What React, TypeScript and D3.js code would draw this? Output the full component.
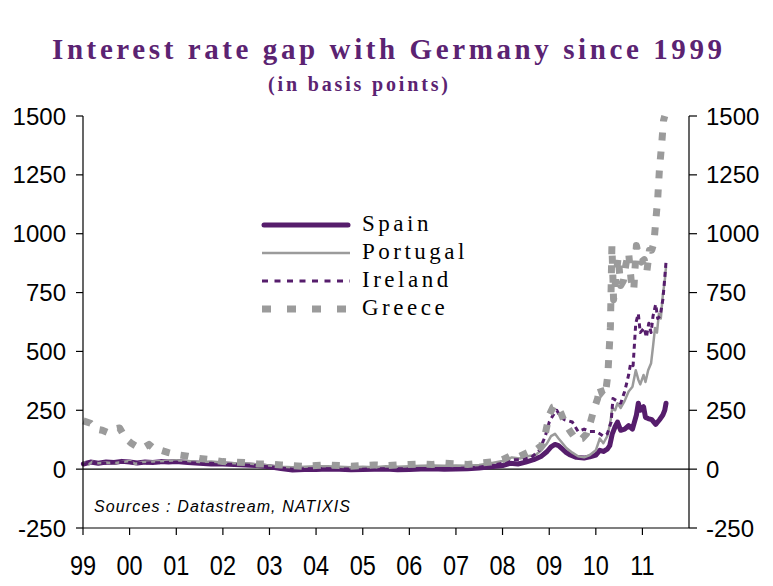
import React from "react";
import * as d3 from "d3";

type Pt = [string, number];

const yTicks = [-250, 0, 250, 500, 750, 1000, 1250, 1500];
const yearTicks = ["99", "00", "01", "02", "03", "04", "05", "06", "07", "08", "09", "10", "11"];
const seriesNames = ["Spain", "Portugal", "Ireland", "Greece"];

const spain: Pt[] = [
  ["1999-01-04", 22], ["1999-03-01", 30], ["1999-05-01", 25], ["1999-07-01", 30], ["1999-09-01", 28], ["1999-11-01", 33],
  ["2000-01-01", 30], ["2000-03-01", 26], ["2000-05-01", 30], ["2000-07-01", 28], ["2000-09-01", 32], ["2000-11-01", 30],
  ["2001-01-01", 32], ["2001-04-01", 28], ["2001-07-01", 25], ["2001-10-01", 22], ["2002-01-01", 22], ["2002-04-01", 20],
  ["2002-07-01", 18], ["2002-10-01", 15], ["2003-01-01", 10], ["2003-04-01", 3], ["2003-07-01", -4], ["2003-10-01", -2],
  ["2004-01-01", -1], ["2004-04-01", 1], ["2004-07-01", 0], ["2004-10-01", -3], ["2005-01-01", -2], ["2005-04-01", 0],
  ["2005-07-01", 1], ["2005-10-01", -3], ["2006-01-01", -1], ["2006-04-01", 1], ["2006-07-01", 2], ["2006-10-01", 0],
  ["2007-01-01", 1], ["2007-04-01", 2], ["2007-07-01", 5], ["2007-10-01", 10], ["2008-01-01", 15], ["2008-03-01", 25],
  ["2008-05-01", 22], ["2008-07-01", 30], ["2008-09-01", 40], ["2008-11-01", 55], ["2008-12-15", 75], ["2009-01-15", 95],
  ["2009-02-15", 105], ["2009-03-15", 100], ["2009-04-15", 85], ["2009-05-15", 70], ["2009-06-15", 60], ["2009-08-01", 50],
  ["2009-10-01", 47], ["2009-11-15", 52], ["2010-01-01", 60], ["2010-02-01", 80], ["2010-03-01", 75], ["2010-04-01", 85],
  ["2010-04-20", 100], ["2010-05-10", 150], ["2010-06-01", 180], ["2010-06-20", 200], ["2010-07-15", 165], ["2010-08-15", 170],
  ["2010-09-15", 185], ["2010-10-15", 170], ["2010-11-15", 230], ["2010-11-30", 280], ["2010-12-15", 250], ["2011-01-10", 265],
  ["2011-01-25", 220], ["2011-02-15", 215], ["2011-03-15", 210], ["2011-04-15", 190], ["2011-05-15", 210], ["2011-06-10", 230],
  ["2011-06-25", 250], ["2011-07-05", 280],
];

const portugal: Pt[] = [
  ["1999-01-04", 30], ["1999-02-15", 20], ["1999-03-15", 32], ["1999-05-01", 25], ["1999-07-01", 28], ["1999-09-01", 25],
  ["1999-11-01", 30], ["2000-01-01", 35], ["2000-02-15", 22], ["2000-04-01", 30], ["2000-07-01", 32], ["2000-10-01", 35],
  ["2001-01-01", 38], ["2001-04-01", 35], ["2001-07-01", 30], ["2001-10-01", 32], ["2002-01-01", 28], ["2002-04-01", 25],
  ["2002-07-01", 25], ["2002-10-01", 20], ["2003-01-01", 15], ["2003-04-01", 10], ["2003-07-01", 8], ["2003-10-01", 10],
  ["2004-01-01", 12], ["2004-04-01", 12], ["2004-07-01", 10], ["2004-10-01", 8], ["2005-01-01", 10], ["2005-04-01", 8],
  ["2005-07-01", 12], ["2005-10-01", 10], ["2006-01-01", 12], ["2006-04-01", 14], ["2006-07-01", 15], ["2006-10-01", 14],
  ["2007-01-01", 15], ["2007-04-01", 14], ["2007-07-01", 18], ["2007-10-01", 25], ["2008-01-01", 35], ["2008-03-15", 50],
  ["2008-05-15", 45], ["2008-07-15", 55], ["2008-09-15", 60], ["2008-11-01", 80], ["2008-12-15", 110], ["2009-01-15", 140],
  ["2009-02-15", 150], ["2009-03-15", 130], ["2009-04-15", 110], ["2009-05-15", 90], ["2009-07-01", 70], ["2009-08-15", 55],
  ["2009-10-01", 50], ["2009-11-15", 60], ["2010-01-01", 80], ["2010-02-01", 130], ["2010-03-01", 110], ["2010-04-01", 140],
  ["2010-04-25", 200], ["2010-05-10", 260], ["2010-06-01", 250], ["2010-06-20", 280], ["2010-07-15", 260], ["2010-08-15", 290],
  ["2010-09-15", 330], ["2010-10-15", 350], ["2010-11-10", 420], ["2010-11-30", 380], ["2010-12-15", 360], ["2011-01-10", 400],
  ["2011-01-25", 370], ["2011-02-15", 420], ["2011-03-10", 450], ["2011-03-25", 520], ["2011-04-10", 600], ["2011-04-25", 580],
  ["2011-05-10", 660], ["2011-05-25", 640], ["2011-06-10", 740], ["2011-06-25", 800], ["2011-07-05", 860],
];

const ireland: Pt[] = [
  ["1999-01-04", 22], ["1999-04-01", 28], ["1999-07-01", 25], ["1999-10-01", 30], ["2000-01-01", 28], ["2000-04-01", 25],
  ["2000-07-01", 27], ["2000-10-01", 28], ["2001-01-01", 30], ["2001-04-01", 28], ["2001-07-01", 25], ["2001-10-01", 25],
  ["2002-01-01", 22], ["2002-04-01", 20], ["2002-07-01", 18], ["2002-10-01", 15], ["2003-01-01", 10], ["2003-04-01", 5],
  ["2003-07-01", 0], ["2003-10-01", 2], ["2004-01-01", 2], ["2004-07-01", 1], ["2005-01-01", 0], ["2005-07-01", 2],
  ["2006-01-01", 1], ["2006-07-01", 3], ["2007-01-01", 3], ["2007-07-01", 8], ["2007-10-01", 15], ["2008-01-01", 25],
  ["2008-03-15", 40], ["2008-06-01", 40], ["2008-08-15", 50], ["2008-10-15", 80], ["2008-12-01", 140], ["2009-01-01", 200],
  ["2009-02-01", 230], ["2009-03-01", 250], ["2009-04-01", 220], ["2009-05-01", 210], ["2009-06-01", 205], ["2009-07-01", 200],
  ["2009-08-15", 160], ["2009-10-01", 170], ["2009-11-15", 160], ["2010-01-01", 160], ["2010-02-01", 150], ["2010-03-01", 140],
  ["2010-04-01", 150], ["2010-05-01", 200], ["2010-05-15", 300], ["2010-06-15", 290], ["2010-07-15", 280], ["2010-08-15", 330],
  ["2010-09-15", 400], ["2010-10-01", 450], ["2010-10-20", 440], ["2010-11-10", 620], ["2010-11-30", 660], ["2010-12-15", 580],
  ["2011-01-15", 600], ["2011-02-01", 560], ["2011-02-20", 620], ["2011-03-10", 580], ["2011-03-25", 650], ["2011-04-15", 700],
  ["2011-05-01", 640], ["2011-05-20", 650], ["2011-06-10", 720], ["2011-06-20", 780], ["2011-07-05", 880],
];

const greece: Pt[] = [
  ["1999-01-04", 205], ["1999-03-01", 195], ["1999-04-15", 170], ["1999-06-01", 165], ["1999-07-15", 155], ["1999-09-01", 170],
  ["1999-10-15", 175], ["1999-12-01", 130], ["2000-01-15", 110], ["2000-03-01", 95], ["2000-04-15", 90], ["2000-06-01", 105],
  ["2000-07-15", 85], ["2000-09-01", 80], ["2000-11-01", 70], ["2001-01-01", 62], ["2001-04-01", 55], ["2001-07-01", 45],
  ["2001-10-01", 40], ["2002-01-01", 32], ["2002-04-01", 30], ["2002-07-01", 28], ["2002-10-01", 22], ["2003-01-01", 22],
  ["2003-04-01", 18], ["2003-07-01", 15], ["2003-10-01", 12], ["2004-01-01", 15], ["2004-04-01", 18], ["2004-07-01", 15],
  ["2004-10-01", 12], ["2005-01-01", 15], ["2005-04-01", 18], ["2005-07-01", 15], ["2005-10-01", 18], ["2006-01-01", 20],
  ["2006-04-01", 22], ["2006-07-01", 20], ["2006-10-01", 25], ["2007-01-01", 22], ["2007-04-01", 20], ["2007-07-01", 25],
  ["2007-10-01", 30], ["2008-01-01", 40], ["2008-03-15", 60], ["2008-05-15", 55], ["2008-07-15", 70], ["2008-09-15", 80],
  ["2008-11-01", 100], ["2008-12-01", 150], ["2009-01-01", 230], ["2009-02-01", 265], ["2009-03-01", 270], ["2009-04-01", 240],
  ["2009-05-01", 200], ["2009-06-15", 160], ["2009-08-01", 125], ["2009-09-15", 130], ["2009-10-20", 150], ["2009-11-20", 200],
  ["2009-12-15", 250], ["2010-01-15", 300], ["2010-02-01", 350], ["2010-02-20", 320], ["2010-03-15", 310], ["2010-04-05", 400],
  ["2010-04-25", 600], ["2010-05-07", 950], ["2010-05-20", 720], ["2010-06-05", 800], ["2010-06-25", 900], ["2010-07-15", 780],
  ["2010-08-05", 800], ["2010-08-25", 870], ["2010-09-15", 920], ["2010-10-05", 800], ["2010-10-25", 760], ["2010-11-15", 950],
  ["2010-12-05", 900], ["2010-12-25", 880], ["2011-01-15", 890], ["2011-02-05", 840], ["2011-02-25", 930], ["2011-03-15", 930],
  ["2011-04-01", 960], ["2011-04-15", 1050], ["2011-05-01", 1150], ["2011-05-15", 1280], ["2011-06-01", 1380], ["2011-06-15", 1480],
  ["2011-06-25", 1500],
];

const PURPLE = "#561d6c";
const TITLE_PURPLE = "#5b2372";
const GRAY = "#9b9b9b";

const styles = [
  { color: PURPLE, width: 5, dash: "", legendDash: "", cap: "round" },
  { color: GRAY, width: 2.5, dash: "", legendDash: "", cap: "butt" },
  { color: PURPLE, width: 3, dash: "5,4", legendDash: "6,6.5", cap: "butt" },
  { color: GRAY, width: 7, dash: "8,11", legendDash: "9,16", cap: "butt" },
];

export default function App() {
  const W = 773, H = 586;
  const parse = d3.timeParse("%Y-%m-%d");
  const x = d3.scaleTime().domain([new Date(1999, 0, 1), new Date(2012, 0, 1)]).range([83, 689]);
  const y = d3.scaleLinear().domain([-250, 1500]).range([528, 116]);
  const line = d3.line<Pt>().x(d => x(parse(d[0]) as Date)).y(d => y(d[1]));
  const all = [spain, portugal, ireland, greece];
  const years = d3.range(1999, 2012).map(yr => new Date(yr, 0, 1));
  const sans = "'Liberation Sans', Arial, sans-serif";
  const serif = "'Liberation Serif', 'Times New Roman', serif";
  const x0 = x.range()[0], x1 = x.range()[1];
  const legendY = [225, 253, 281, 309];

  return (
    <svg width={W} height={H} style={{ position: "absolute", left: 0, top: 0, background: "#fff" }}>
      <rect width={W} height={H} fill="#fff" />
      <text x={387} y={59} textAnchor="middle" fontFamily={serif} fontWeight="bold" fontSize={29} fill={TITLE_PURPLE}
        textLength={670} lengthAdjust="spacing">Interest rate gap with Germany since 1999</text>
      <text x={358} y={91} textAnchor="middle" fontFamily={serif} fontWeight="bold" fontSize={20} fill={TITLE_PURPLE}
        textLength={180} lengthAdjust="spacing">(in basis points)</text>

      {/* zero line */}
      <line x1={x0} x2={x1} y1={y(0)} y2={y(0)} stroke="#000" strokeWidth={1.2} />

      {/* series */}
      {all.map((s, i) => (
        <path key={i} d={line(s) || ""} fill="none" stroke={styles[i].color} strokeWidth={styles[i].width}
          strokeDasharray={styles[i].dash || undefined} strokeLinejoin="round" strokeLinecap={styles[i].cap as any} />
      ))}

      {/* axes */}
      <line x1={x0} x2={x0} y1={y(1500)} y2={y(-250)} stroke="#000" strokeWidth={1.2} />
      <line x1={x1} x2={x1} y1={y(1500)} y2={y(-250)} stroke="#000" strokeWidth={1.2} />
      <line x1={x0} x2={x1} y1={y(-250)} y2={y(-250)} stroke="#000" strokeWidth={1.2} />
      {yTicks.map(t => (
        <g key={t}>
          <line x1={x0 - 7} x2={x0} y1={y(t)} y2={y(t)} stroke="#000" strokeWidth={1.2} />
          <line x1={x1} x2={x1 + 8} y1={y(t)} y2={y(t)} stroke="#000" strokeWidth={1.2} />
          <text x={66} y={y(t)} dy="0.36em" textAnchor="end" fontFamily={sans} fontSize={24} fill="#000">{t}</text>
          <text x={706} y={y(t)} dy="0.36em" textAnchor="start" fontFamily={sans} fontSize={24} fill="#000">{t}</text>
        </g>
      ))}
      {years.map((d, i) => (
        <g key={i}>
          <line x1={x(d)} x2={x(d)} y1={y(-250)} y2={y(-250) + 7} stroke="#000" strokeWidth={1.2} />
          <text transform={`translate(${x(d)},575) scale(0.87,1)`} textAnchor="middle" fontFamily={sans} fontSize={27}
            fill="#000">{yearTicks[i]}</text>
        </g>
      ))}

      <text x={94} y={512} fontFamily={sans} fontStyle="italic" fontSize={16} fill="#000" textLength={256}
        lengthAdjust="spacing">Sources : Datastream, NATIXIS</text>

      {/* legend */}
      {seriesNames.map((n, i) => (
        <g key={n}>
          <line x1={i === 0 ? 264 : 262} x2={i === 0 ? 348 : 350} y1={legendY[i]} y2={legendY[i]} stroke={styles[i].color}
            strokeWidth={styles[i].width} strokeDasharray={styles[i].legendDash || undefined}
            strokeLinecap={styles[i].cap as any} />
          <text x={362} y={legendY[i] + 6} fontFamily={serif} fontSize={23} letterSpacing={3.5} fill="#000">{n}</text>
        </g>
      ))}
    </svg>
  );
}
